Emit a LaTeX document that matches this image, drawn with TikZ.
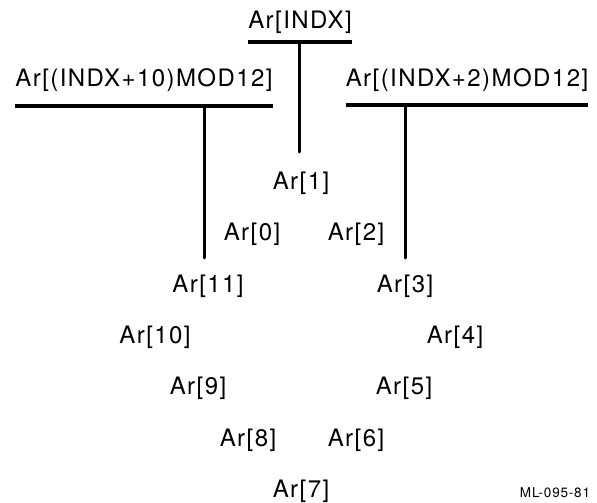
\documentclass[tikz,border=0pt]{standalone}
\usepackage{fontspec}
\setmainfont{TeX Gyre Heros}[LetterSpace=6]
\usetikzlibrary{positioning}
\begin{document}
\begin{tikzpicture}[
  x=1pt, y=-1pt,
  elem/.style={font=\fontsize{24}{28}\selectfont, inner sep=0pt, anchor=base},
  ptr/.style={font=\fontsize{24}{28}\selectfont, inner sep=0pt, anchor=base},
  bar/.style={line width=3.4pt},
  stem/.style={line width=3pt, line cap=round}
]
\useasboundingbox (0,0) rectangle (597,503);
\node[ptr] (indx) at (300,29) {Ar[INDX]};
\node[ptr] (minus) at (144,87) {Ar[(INDX+10)MOD12]};
\node[ptr] (plus) at (467,87) {Ar[(INDX+2)MOD12]};

\node[elem] (a1) at (301,189) {Ar[1]};
\node[elem] (a0) at (252,240) {Ar[0]};
\node[elem] (a2) at (356,240) {Ar[2]};
\node[elem] (a11) at (208,292) {Ar[11]};
\node[elem] (a3) at (405,292) {Ar[3]};
\node[elem] (a10) at (155,343) {Ar[10]};
\node[elem] (a4) at (455,343) {Ar[4]};
\node[elem] (a9) at (198,394) {Ar[9]};
\node[elem] (a5) at (404,394) {Ar[5]};
\node[elem] (a8) at (248,446) {Ar[8]};
\node[elem] (a6) at (356,446) {Ar[6]};
\node[elem] (a7) at (301,497) {Ar[7]};

\node[anchor=base, inner sep=0pt, font=\fontsize{13.5}{16}\selectfont] (tag) at (555,497) {ML-095-81};

\coordinate (indxbar) at ([yshift=-13pt]indx.base);
\coordinate (minusbar) at ([yshift=-19pt]minus.base);
\coordinate (plusbar) at ([yshift=-18pt]plus.base);
\coordinate (t1) at (299,152);
\coordinate (t0) at (204,258);
\coordinate (t2) at (405,258);

\draw[bar] (indxbar -| indx.west) -- (indxbar -| indx.east);
\draw[bar] (minusbar -| minus.west) -- (minusbar -| minus.east);
\draw[bar] (plusbar -| plus.west) -- (plusbar -| plus.east);
\draw[stem] (indxbar -| t1) -- (t1);
\draw[stem] (minusbar -| t0) -- (t0);
\draw[stem] (plusbar -| t2) -- (t2);
\end{tikzpicture}
\end{document}
